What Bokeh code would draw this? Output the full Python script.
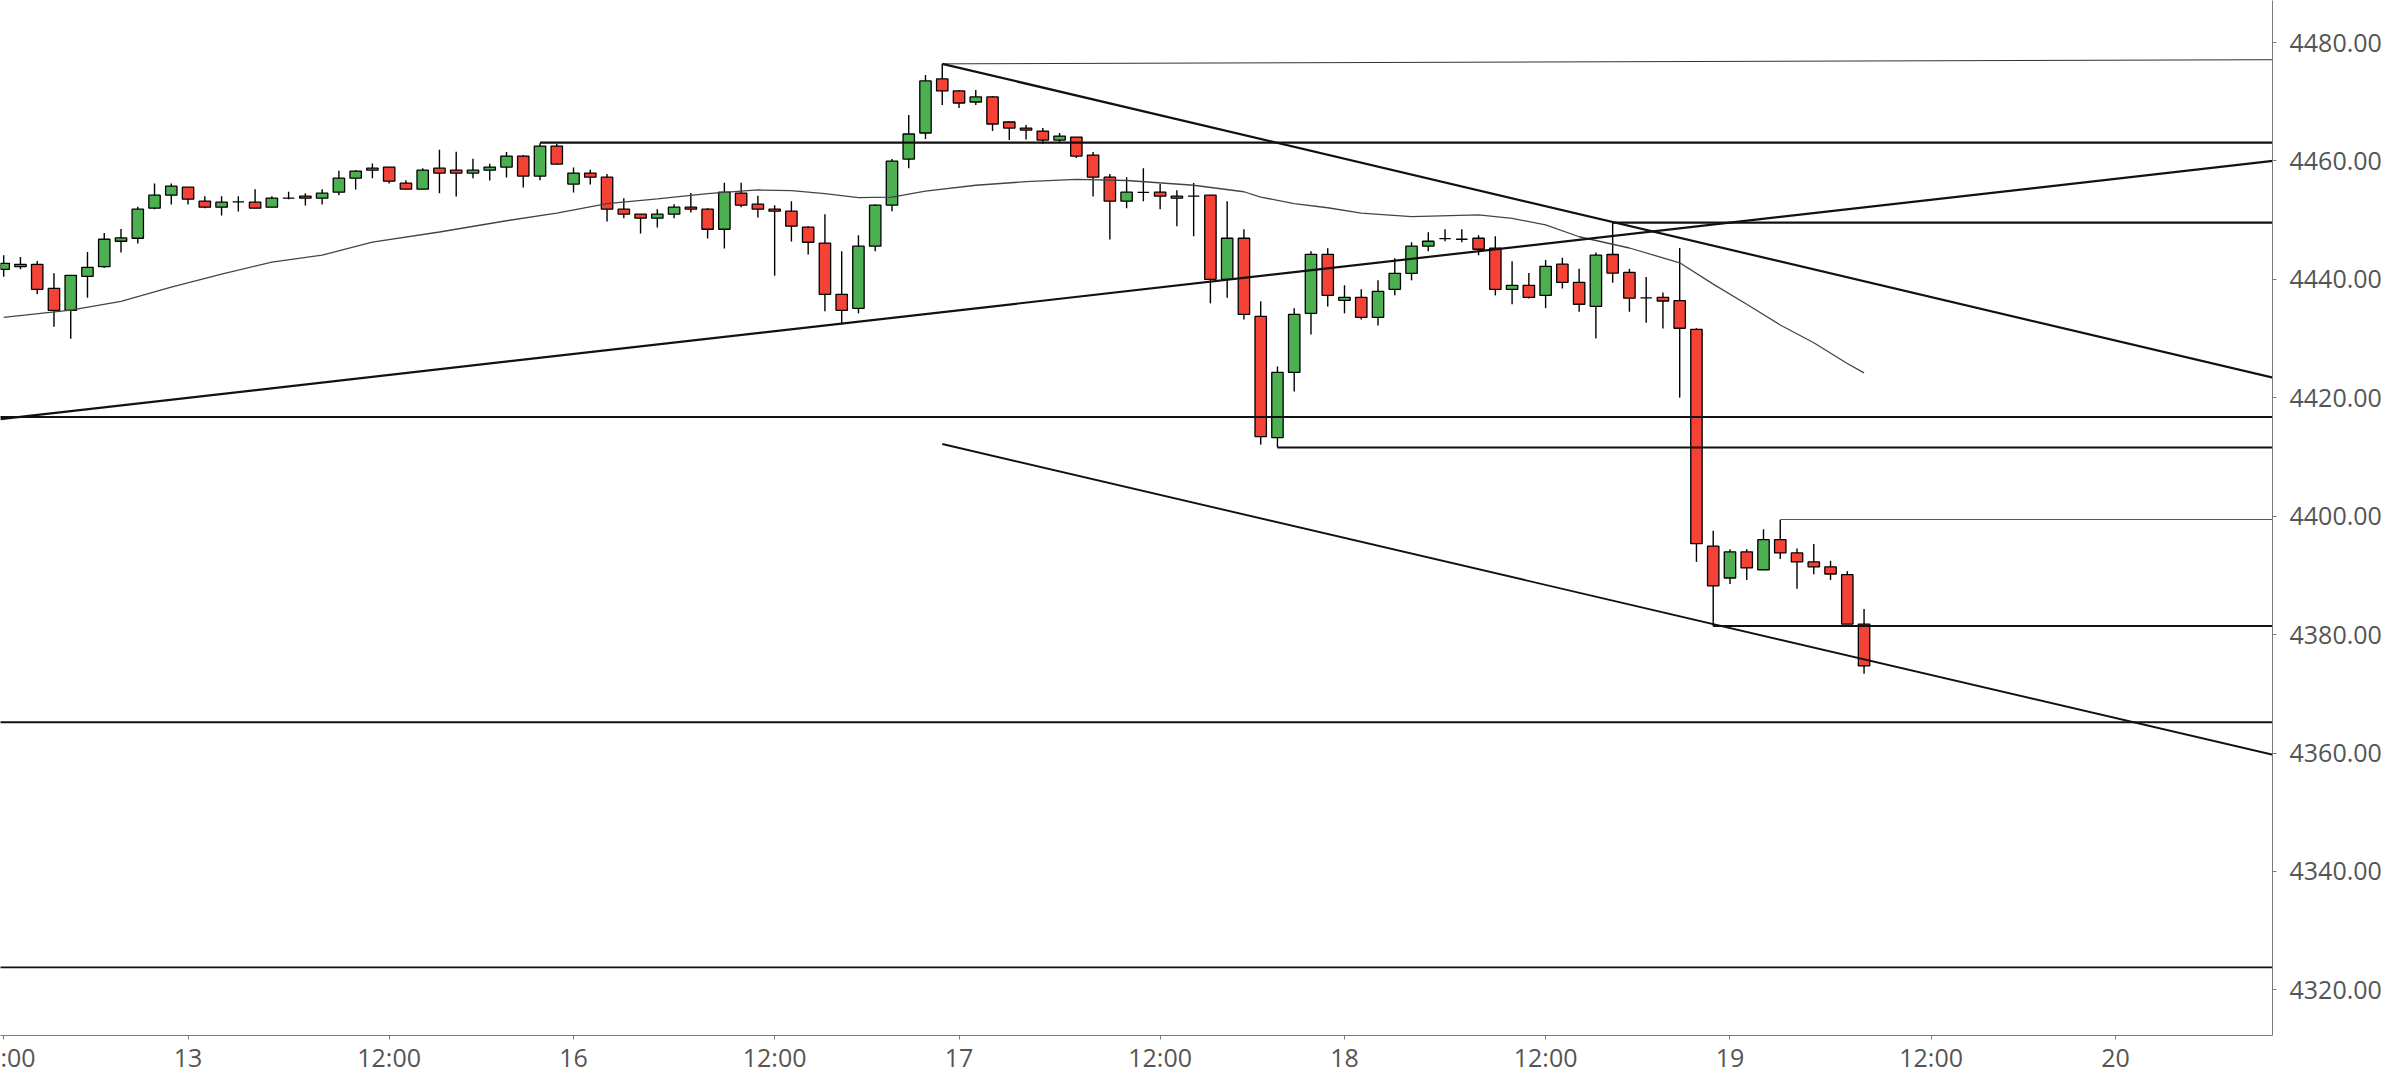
from bokeh.plotting import figure
from bokeh.models import Range1d, FixedTicker, NumeralTickFormatter, ColumnDataSource
from bokeh.embed import file_html
from bokeh.resources import INLINE

# ---------------- data (hourly candles, bar index 0 = Aug 12 12:00) ----------------
bar = list(range(112))
open_ = [4441.70, 4442.55, 4442.55, 4438.49, 4434.76, 4440.52, 4442.15, 4446.44, 4446.95, 4452.02,
         4454.22, 4455.58, 4453.21, 4452.19, 4453.10, 4453.04, 4452.19, 4453.72, 4454.05, 4453.72,
         4454.73, 4457.10, 4458.45, 4458.96, 4456.25, 4455.24, 4458.79, 4458.45, 4457.95, 4458.45,
         4458.96, 4460.83, 4457.44, 4462.52, 4456.09, 4457.95, 4457.27, 4451.86, 4451.01, 4450.34,
         4451.01, 4452.20, 4451.86, 4448.47, 4454.57, 4452.70, 4451.86, 4451.52, 4448.81, 4446.11,
         4437.48, 4435.11, 4445.60, 4452.53, 4460.32, 4464.72, 4473.85, 4471.82, 4469.96, 4470.81,
         4466.58, 4465.56, 4465.05, 4463.53, 4464.04, 4461.00, 4457.27, 4453.21, 4454.68, 4454.73,
         4453.72, 4454.06, 4454.23, 4440.01, 4446.95, 4433.75, 4413.28, 4424.28, 4434.26, 4444.24,
         4436.46, 4436.97, 4433.58, 4438.32, 4441.03, 4445.60, 4446.89, 4446.78, 4446.95, 4445.26,
         4438.32, 4439.00, 4437.31, 4442.57, 4439.49, 4435.44, 4444.20, 4441.18, 4436.89, 4436.95,
         4436.41, 4431.57, 4394.95, 4389.57, 4393.98, 4390.96, 4396.04, 4393.80, 4392.29, 4391.45,
         4390.12, 4381.78]
high = [4444.07, 4443.79, 4443.11, 4441.03, 4440.69, 4444.64, 4447.85, 4448.53, 4452.25, 4456.20,
        4456.20, 4455.58, 4454.05, 4454.05, 4454.05, 4455.24, 4454.05, 4454.79, 4454.56, 4455.24,
        4458.34, 4458.45, 4459.58, 4458.96, 4456.76, 4458.79, 4461.89, 4461.55, 4460.37, 4459.52,
        4461.50, 4461.00, 4463.00, 4462.86, 4458.91, 4458.51, 4457.78, 4453.72, 4451.01, 4451.86,
        4452.70, 4454.57, 4452.03, 4456.31, 4456.31, 4454.11, 4452.53, 4453.21, 4448.98, 4451.01,
        4444.75, 4447.46, 4452.70, 4460.32, 4467.76, 4474.53, 4476.39, 4471.99, 4471.99, 4470.98,
        4466.75, 4466.07, 4465.56, 4464.72, 4464.04, 4461.50, 4457.78, 4457.27, 4458.79, 4456.09,
        4455.07, 4456.26, 4454.23, 4453.21, 4448.47, 4436.29, 4425.29, 4435.11, 4444.75, 4445.26,
        4439.00, 4438.32, 4439.84, 4443.57, 4446.27, 4447.96, 4448.47, 4448.47, 4447.46, 4447.29,
        4443.06, 4441.06, 4443.29, 4443.66, 4441.78, 4444.56, 4449.60, 4441.78, 4440.39, 4437.80,
        4445.29, 4431.75, 4397.55, 4394.41, 4394.41, 4397.79, 4399.42, 4394.53, 4395.31, 4392.47,
        4390.72, 4384.32]
low = [4440.46, 4441.70, 4437.47, 4432.00, 4429.97, 4436.91, 4441.98, 4444.52, 4446.05, 4451.85,
       4452.64, 4452.64, 4452.02, 4450.78, 4451.46, 4452.02, 4452.19, 4453.55, 4452.47, 4452.64,
       4454.22, 4455.18, 4457.10, 4456.20, 4455.24, 4455.24, 4454.56, 4454.00, 4457.10, 4456.70,
       4457.21, 4455.52, 4456.76, 4459.30, 4454.68, 4456.03, 4449.77, 4450.34, 4447.74, 4448.76,
       4450.34, 4451.29, 4446.90, 4445.20, 4452.20, 4450.45, 4440.63, 4446.39, 4444.19, 4434.60,
       4432.40, 4434.26, 4444.75, 4451.52, 4458.79, 4463.70, 4469.45, 4468.95, 4469.45, 4465.06,
       4463.53, 4463.64, 4462.85, 4463.19, 4460.48, 4454.00, 4446.72, 4452.02, 4453.21, 4451.86,
       4448.98, 4447.29, 4435.95, 4436.91, 4433.24, 4412.10, 4411.60, 4421.06, 4430.71, 4435.44,
       4434.26, 4433.24, 4432.23, 4437.30, 4439.84, 4444.75, 4446.44, 4446.27, 4444.07, 4437.30,
       4435.78, 4436.77, 4435.14, 4438.46, 4434.53, 4430.00, 4439.43, 4434.53, 4432.66, 4431.69,
       4420.03, 4392.29, 4381.42, 4388.55, 4389.21, 4390.96, 4392.78, 4387.76, 4390.18, 4389.21,
       4381.78, 4373.38]
close = [4442.72, 4442.15, 4438.32, 4434.76, 4440.69, 4442.04, 4446.78, 4447.00, 4451.85, 4454.22,
         4455.75, 4453.55, 4452.19, 4453.04, 4453.10, 4452.02, 4453.72, 4453.72, 4453.72, 4454.56,
         4457.10, 4458.28, 4458.79, 4456.59, 4455.24, 4458.45, 4457.95, 4457.95, 4458.45, 4458.96,
         4460.82, 4457.44, 4462.52, 4459.47, 4457.95, 4457.27, 4451.86, 4451.01, 4450.34, 4451.01,
         4452.20, 4451.86, 4448.47, 4454.73, 4452.53, 4451.86, 4451.52, 4448.98, 4446.27, 4437.48,
         4434.77, 4445.60, 4452.53, 4459.98, 4464.55, 4473.52, 4471.82, 4469.79, 4470.81, 4466.24,
         4465.56, 4465.22, 4463.53, 4464.21, 4460.82, 4457.27, 4453.21, 4454.73, 4454.68, 4454.06,
         4454.06, 4454.06, 4440.01, 4446.95, 4434.09, 4413.45, 4424.28, 4434.09, 4444.24, 4437.30,
         4436.97, 4433.58, 4437.98, 4441.03, 4445.60, 4446.44, 4446.89, 4446.78, 4445.09, 4438.32,
         4439.00, 4436.95, 4442.21, 4439.49, 4435.80, 4444.08, 4441.06, 4436.83, 4436.89, 4436.35,
         4431.75, 4395.37, 4388.24, 4393.98, 4391.26, 4396.04, 4393.80, 4392.29, 4391.45, 4390.24,
         4381.78, 4374.71]

# moving average
ma_bar = [0, 4, 7, 10, 13, 16, 19, 22, 26, 30, 33, 36, 39, 42, 45, 47, 49, 51, 53, 55, 58, 61,
          64, 67, 71, 74, 75, 77, 79, 81, 84, 88, 90, 92, 94, 97, 100, 102, 104, 106, 108, 110, 111]
ma_value = [4433.6, 4434.8, 4436.3, 4438.7, 4440.9, 4442.9, 4444.1, 4446.3, 4448.0, 4449.9, 4451.2,
            4452.8, 4453.6, 4454.5, 4455.1, 4455.0, 4454.5, 4453.8, 4453.9, 4454.9, 4455.9, 4456.5,
            4456.9, 4456.7, 4455.9, 4454.8, 4453.9, 4452.8, 4452.1, 4451.2, 4450.6, 4450.9, 4450.3,
            4449.2, 4447.2, 4445.3, 4442.8, 4439.2, 4435.8, 4432.3, 4429.3, 4425.8, 4424.2]

# horizontal levels (price, bar where the ray starts; -1 = from the left edge)
level_price = [4463.1, 4449.6, 4416.75, 4411.6, 4399.45, 4381.45, 4365.2, 4323.8]
level_start = [32, 96, -1, 76, 106, 102, -1, -1]

# trend lines (bar0, price0, bar1, price1)
trend_bar0 = [56, 56, 56, -0.2]
trend_price0 = [4476.4, 4476.4, 4412.2, 4416.4]
trend_bar1 = [135.4, 135.4, 135.4, 135.4]
trend_price1 = [4477.1, 4423.4, 4359.7, 4460.0]

x_tick_bars = [0, 11, 23, 34, 46, 57, 69, 80, 92, 103, 115, 126]
x_tick_labels = [":00", "13", "12:00", "16", "12:00", "17", "12:00", "18", "12:00", "19", "12:00", "20"]
y_ticks = [4320, 4340, 4360, 4380, 4400, 4420, 4440, 4460, 4480]

# ---------------- styles ----------------
GREEN = "#4caf50"
RED = "#f44336"
TXT = "#555555"
AXC = "#7a7a7a"
FONT = "Open Sans"
level_w = [2.2, 2.2, 1.9, 1.9, 1.0, 1.9, 1.9, 1.9]
level_c = ["#111111", "#111111", "#111111", "#111111", "#555555", "#111111", "#111111", "#111111"]
trend_w = [1.0, 2.2, 1.9, 2.2]
trend_c = ["#333333", "#111111", "#111111", "#111111"]

src = ColumnDataSource(dict(
    bar=bar, open=open_, high=high, low=low, close=close,
    top=[max(o, c) for o, c in zip(open_, close)],
    bottom=[min(o, c) for o, c in zip(open_, close)],
    color=[GREEN if c >= o else RED for o, c in zip(open_, close)],
))

p = figure(width=2398, height=1076, output_backend="svg", toolbar_location=None,
           x_range=Range1d(-0.19, 135.37), y_range=Range1d(4312.3, 4487.1),
           y_axis_location="right", min_border_left=0, min_border_right=126,
           min_border_top=0, min_border_bottom=0)
p.background_fill_color = "white"
p.border_fill_color = "white"
p.outline_line_color = None
p.xgrid.visible = False
p.ygrid.visible = False

# candles
p.segment(x0="bar", y0="low", x1="bar", y1="high", source=src, line_color="black", line_width=1.4)
p.vbar(x="bar", width=0.68, top="top", bottom="bottom", source=src,
       fill_color="color", line_color="black", line_width=1.3)

# moving average
p.line(ma_bar, ma_value, line_color="#444444", line_width=1.3)

# levels
for lp, ls, lw, lc in zip(level_price, level_start, level_w, level_c):
    p.segment(x0=[ls], y0=[lp], x1=[140], y1=[lp], line_color=lc, line_width=lw)

# trend lines
for b0, p0, b1, p1, tw, tc in zip(trend_bar0, trend_price0, trend_bar1, trend_price1, trend_w, trend_c):
    p.segment(x0=[b0], y0=[p0], x1=[b1], y1=[p1], line_color=tc, line_width=tw)

# axes
for ax in (p.xaxis[0], p.yaxis[0]):
    ax.axis_line_color = AXC
    ax.major_tick_line_color = AXC
    ax.minor_tick_line_color = None
    ax.major_tick_in = 0
    ax.major_tick_out = 4
    ax.major_label_text_font = FONT
    ax.major_label_text_font_size = "25px"
    ax.major_label_text_color = TXT

p.xaxis.ticker = FixedTicker(ticks=x_tick_bars)
p.xaxis.major_label_overrides = dict(zip(x_tick_bars, x_tick_labels))
p.xaxis.major_label_standoff = 0

p.yaxis.ticker = FixedTicker(ticks=y_ticks)
p.yaxis.formatter = NumeralTickFormatter(format="0.00")
p.yaxis.major_label_standoff = 13

open("out.html", "w").write(file_html(p, INLINE))
